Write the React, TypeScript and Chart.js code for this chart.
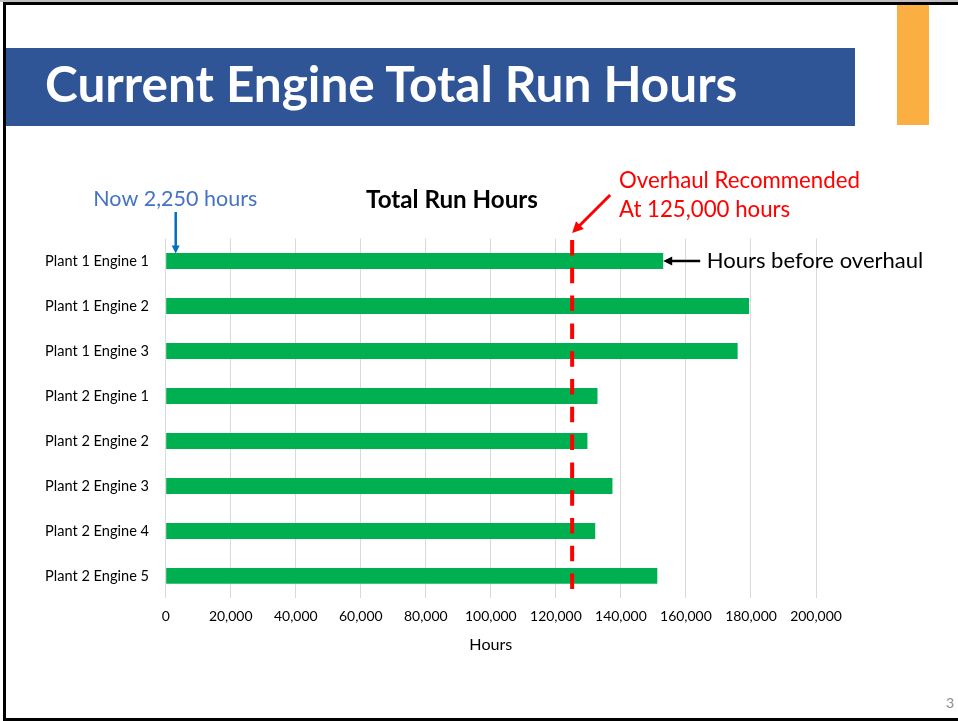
import React, { useEffect, useRef } from "react";
import { Chart, registerables } from "chart.js";

Chart.register(...registerables);

// ---------- data ----------
const categories = [
  "Plant 1 Engine 1",
  "Plant 1 Engine 2",
  "Plant 1 Engine 3",
  "Plant 2 Engine 1",
  "Plant 2 Engine 2",
  "Plant 2 Engine 3",
  "Plant 2 Engine 4",
  "Plant 2 Engine 5",
];
const runHours = [153000, 179400, 175900, 132800, 129700, 137400, 132100, 151200];
const xMin = 0;
const xMax = 200000;
const xStep = 20000;
const overhaulHours = 125000;
const nowHours = 2250;

const slideTitle = "Current Engine Total Run Hours";
const chartTitle = "Total Run Hours";
const axisTitle = "Hours";
const nowLabel = "Now 2,250 hours";
const overhaulLabel = ["Overhaul Recommended", "At 125,000 hours"];
const hoursBeforeLabel = "Hours before overhaul";
const pageNumber = "3";

// ---------- styles ----------
const FONT = "Lato, 'Open Sans', sans-serif";
const GREEN = "#00B050";
const RED = "#FF0000";

let measureCtx: CanvasRenderingContext2D | null = null;
function fitSize(text: string, weight: string, target: number): number {
  if (!measureCtx) measureCtx = document.createElement("canvas").getContext("2d");
  if (!measureCtx) return 16;
  measureCtx.font = `${weight} 100px ${FONT}`;
  const w = measureCtx.measureText(text).width;
  return (100 * target) / w;
}

function drawArrow(
  ctx: CanvasRenderingContext2D,
  x1: number, y1: number, x2: number, y2: number,
  color: string, width: number, head: number
) {
  const a = Math.atan2(y2 - y1, x2 - x1);
  const c = Math.cos(a), s = Math.sin(a);
  ctx.save();
  ctx.strokeStyle = color;
  ctx.fillStyle = color;
  ctx.lineWidth = width;
  ctx.setLineDash([]);
  ctx.beginPath();
  ctx.moveTo(x1, y1);
  ctx.lineTo(x2 - c * head * 0.8, y2 - s * head * 0.8);
  ctx.stroke();
  ctx.beginPath();
  ctx.moveTo(x2, y2);
  ctx.lineTo(x2 - head * c + head * 0.5 * s, y2 - head * s - head * 0.5 * c);
  ctx.lineTo(x2 - head * c - head * 0.5 * s, y2 - head * s + head * 0.5 * c);
  ctx.closePath();
  ctx.fill();
  ctx.restore();
}

const annotationPlugin = {
  id: "slideAnnotations",
  afterDraw(chart: any) {
    const { ctx, chartArea } = chart;
    const xs = chart.scales.x;
    const ys = chart.scales.y;

    // chart title
    ctx.save();
    const titleSize = fitSize(chartTitle, "bold", 172);
    ctx.font = `bold ${titleSize}px ${FONT}`;
    ctx.fillStyle = "#000000";
    ctx.textAlign = "center";
    ctx.textBaseline = "alphabetic";
    ctx.fillText(chartTitle, 452, 207.5);
    ctx.restore();

    // dashed overhaul line
    const ox = xs.getPixelForValue(overhaulHours);
    ctx.save();
    ctx.strokeStyle = RED;
    ctx.lineWidth = 4;
    ctx.setLineDash([15.5, 12.3]);
    ctx.beginPath();
    ctx.moveTo(ox, chartArea.top + 1.5);
    ctx.lineTo(ox, chartArea.bottom - 7.5);
    ctx.stroke();
    ctx.restore();

    // arrows
    drawArrow(ctx, ox + 38, 195, ox, 233, RED, 3, 11);
    const nx = xs.getPixelForValue(nowHours) + 2.7;
    drawArrow(ctx, nx, 212, nx, 253.5, "#0070C0", 2.5, 8);
    const bx = xs.getPixelForValue(runHours[0]);
    const by = ys.getPixelForValue(0);
    drawArrow(ctx, bx + 37, by, bx, by, "#000000", 2.5, 9);

    // texts
    ctx.save();
    ctx.textAlign = "left";
    ctx.textBaseline = "alphabetic";
    const nowSize = fitSize(nowLabel, "normal", 164);
    ctx.font = `normal ${nowSize}px ${FONT}`;
    ctx.fillStyle = "#4472C4";
    ctx.fillText(nowLabel, 93.3, 205.7);

    const ovSize = fitSize(overhaulLabel[0], "normal", 241);
    ctx.font = `normal ${ovSize}px ${FONT}`;
    ctx.fillStyle = RED;
    ctx.fillText(overhaulLabel[0], 619, 188.3);
    ctx.fillText(overhaulLabel[1], 619, 216.7);

    const hbSize = fitSize(hoursBeforeLabel, "normal", 216.7);
    ctx.font = `normal ${hbSize}px ${FONT}`;
    ctx.fillStyle = "#000000";
    ctx.fillText(hoursBeforeLabel, 706.7, 268.3);
    ctx.restore();
  },
};

export default function App() {
  const canvasRef = useRef<HTMLCanvasElement | null>(null);

  const slideTitleSize = fitSize(slideTitle, "bold", 694);
  const pageSize = 14;

  useEffect(() => {
    const canvas = canvasRef.current;
    if (!canvas) return;

    const yTickSize = fitSize(categories[0], "normal", 104);
    const xTickSize = fitSize("100,000", "normal", 51.7);
    const axisTitleSize = fitSize(axisTitle, "normal", 43);

    const chartTop = 238.5;
    const plotLeft = 165.7;
    const plotRight = 816;

    const chartBottom = 598.5;
    const xTickLH = xTickSize * 1.2;
    const xTickPad = 617 - chartBottom - xTickLH / 2;
    const axisLH = axisTitleSize * 1.2;
    const axisBottom = 644.5 + axisLH / 2;
    const axisTitlePadTop = axisBottom - chartBottom - xTickPad - xTickLH - axisLH - 10;

    const chart = new Chart(canvas, {
      type: "bar",
      data: {
        labels: categories,
        datasets: [
          {
            label: chartTitle,
            data: runHours,
            backgroundColor: GREEN,
            borderWidth: 0,
            barPercentage: 16 / 45,
            categoryPercentage: 1,
          },
        ],
      },
      options: {
        indexAxis: "y",
        responsive: false,
        maintainAspectRatio: false,
        animation: false,
        layout: {
          padding: {
            left: 0,
            right: 958 - plotRight,
            top: chartTop,
            bottom: 721 - axisBottom,
          },
        },
        plugins: {
          legend: { display: false },
          tooltip: { enabled: false },
          title: { display: false },
        },
        scales: {
          x: {
            type: "linear",
            min: xMin,
            max: xMax,
            ticks: {
              stepSize: xStep,
              color: "#000000",
              padding: xTickPad,
              font: { family: FONT, size: xTickSize, lineHeight: 1.2 },
              callback: (v: any) => Number(v).toLocaleString("en-US"),
            },
            grid: { color: "#D9D9D9", lineWidth: 1, drawTicks: false },
            border: { display: false },
            title: {
              display: true,
              text: axisTitle,
              color: "#000000",
              font: { family: FONT, size: axisTitleSize, lineHeight: 1.2 },
              padding: { top: axisTitlePadTop, bottom: 0 },
            },
          },
          y: {
            type: "category",
            ticks: {
              color: "#000000",
              padding: 16.7,
              font: { family: FONT, size: yTickSize, lineHeight: 1.2 },
            },
            grid: { display: false, drawTicks: false },
            border: { display: false },
            afterFit: (scale: any) => {
              scale.width = plotLeft;
            },
          },
        },
      },
      plugins: [annotationPlugin],
    });

    return () => chart.destroy();
  }, []);

  return (
    <div
      style={{
        position: "absolute",
        left: 0,
        top: 0,
        width: 958,
        height: 721,
        background: "#ffffff",
        overflow: "hidden",
      }}
    >
      <div
        style={{
          position: "absolute",
          left: 0,
          top: 0,
          width: 958,
          height: 2,
          background: "#BFBFBF",
        }}
      />
      <div
        style={{
          position: "absolute",
          left: 3,
          top: 2,
          width: 980,
          height: 719,
          boxSizing: "border-box",
          borderLeft: "3px solid #000",
          borderTop: "3px solid #000",
          borderBottom: "3px solid #000",
        }}
      />
      <div
        style={{
          position: "absolute",
          left: 6,
          top: 48,
          width: 849,
          height: 78,
          background: "#2F5597",
        }}
      />
      <div
        style={{
          position: "absolute",
          left: 45,
          top: 103 - 0.887 * slideTitleSize,
          fontFamily: FONT,
          fontWeight: "bold",
          fontSize: slideTitleSize,
          lineHeight: 1,
          color: "#ffffff",
          whiteSpace: "nowrap",
        }}
      >
        {slideTitle}
      </div>
      <div
        style={{
          position: "absolute",
          left: 897,
          top: 5,
          width: 32,
          height: 120,
          background: "#FBAE42",
        }}
      />
      <div
        style={{
          position: "absolute",
          left: 946,
          top: 708 - 0.887 * pageSize,
          fontFamily: FONT,
          fontSize: pageSize,
          lineHeight: 1,
          color: "#8C8C8C",
        }}
      >
        {pageNumber}
      </div>
      <canvas
        ref={canvasRef}
        width={958}
        height={721}
        style={{ position: "absolute", left: 0, top: 0, width: 958, height: 721 }}
      />
    </div>
  );
}
